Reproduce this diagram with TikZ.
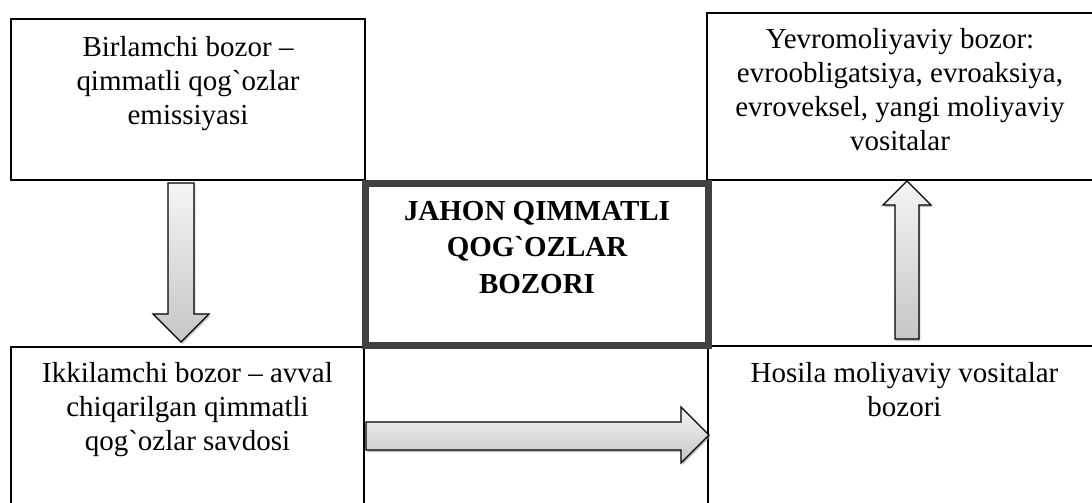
\documentclass[tikz,border=0pt]{standalone}
\usepackage{fontspec}
\setmainfont{Liberation Serif}
\usetikzlibrary{positioning,shadows}

\begin{document}
\begin{tikzpicture}[x=0.02cm, y=-0.02cm,
    box/.style={draw, line width=1.1pt, inner sep=0pt},
    mainbox/.style={draw=black!75, line width=4pt, inner sep=0pt},
    boxtext/.style={anchor=north, align=center, inner sep=0pt, font=\fontsize{16.5}{19.3}\selectfont},
    maintext/.style={anchor=north, align=center, inner sep=0pt, font=\bfseries\fontsize{16.5}{21}\selectfont},
    blockarrow/.style={draw, line width=0.7pt, top color=gray!8, bottom color=gray!45,
        drop shadow={shadow xshift=0.8pt, shadow yshift=-1.2pt, fill=black!40, opacity=0.6}}]

% Fix the picture size (boxes on the right and bottom run off the page)
\useasboundingbox (0,0) rectangle (1092,503);
\clip (0,0) rectangle (1092,503);

% Top boxes
\node[box, minimum width=7.08cm, minimum height=3.22cm] (prim) at (188,99.5) {};
\node[box, minimum width=7.72cm, minimum height=3.34cm] (evro) at (900,96.5) {};

% Bottom boxes
\node[box, minimum width=7.06cm, minimum height=3.36cm] (sec) at (187.5,431) {};
\node[box, minimum width=7.86cm, minimum height=3.38cm] (hosila) at (904.5,430.5) {};

% Central box
\node[mainbox, minimum width=6.86cm, minimum height=3.26cm] (jahon) at (537,264.5) {};

% Texts in the boxes
\node[boxtext] (primtxt) at ([yshift=-0.36cm]prim.north)
    {Birlamchi bozor --\\qimmatli qog\textasciigrave ozlar\\emissiyasi};
\node[boxtext] (evrotxt) at ([yshift=-0.32cm]evro.north)
    {Yevromoliyaviy bozor:\\evroobligatsiya, evroaksiya,\\evroveksel, yangi moliyaviy\\vositalar};
\node[boxtext] (sectxt) at ([yshift=-0.32cm]sec.north)
    {Ikkilamchi bozor -- avval\\chiqarilgan qimmatli\\qog\textasciigrave ozlar savdosi};
\node[boxtext] (hosilatxt) at ([yshift=-0.34cm]hosila.north)
    {Hosila moliyaviy vositalar\\bozori};
\node[maintext] (jahontxt) at ([yshift=-0.42cm]jahon.north)
    {JAHON QIMMATLI\\QOG\textasciigrave OZLAR\\BOZORI};

% Block arrows between the boxes
\coordinate (dtop) at ([xshift=-0.14cm]prim.south);
\draw[blockarrow, shift={(dtop)}] (-13,2) -- (-13,133) -- (-28,133) -- (0,161)
    -- (28,133) -- (13,133) -- (13,2) -- cycle;

\coordinate (ubot) at ([xshift=0.05cm]hosila.north);
\draw[blockarrow, shift={(ubot)}] (-12,-6) -- (-12,-140) -- (-24,-140) -- (0,-164)
    -- (24,-140) -- (12,-140) -- (12,-6) -- cycle;

\coordinate (rleft) at (sec.east);
\draw[blockarrow, shift={(rleft)}] (1,-9) -- (316,-9) -- (316,-24) -- (344,4)
    -- (316,32) -- (316,19) -- (1,19) -- cycle;

\end{tikzpicture}
\end{document}
